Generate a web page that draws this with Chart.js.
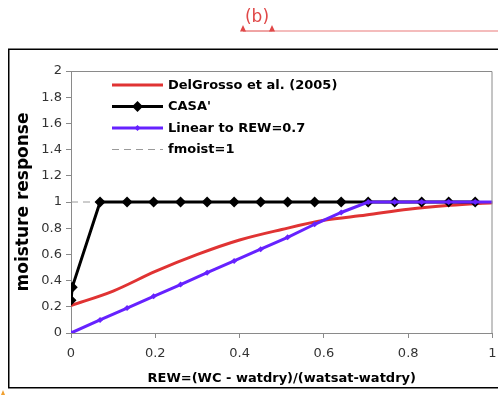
<!DOCTYPE html>
<html>
<head>
<meta charset="utf-8">
<script src="https://cdn.jsdelivr.net/npm/chart.js@4"></script>
<style>
  html, body { margin: 0; padding: 0; background: #fff; }
  #wrap { width: 498px; height: 396px; position: relative; }
</style>
</head>
<body>
<div id="wrap"><canvas id="chart"></canvas></div>
<script>
// REW values and responses
const rewX = [0, 0.1, 0.2, 0.3, 0.4, 0.5, 0.6, 0.7, 0.8, 0.9, 1.0];
const delGrossoY = [0.21, 0.32, 0.47, 0.60, 0.71, 0.79, 0.86, 0.90, 0.945, 0.975, 0.995];

const casaX = [0, 0.003, 0.069, 0.133, 0.196, 0.26, 0.323, 0.387, 0.45, 0.514, 0.578, 0.641, 0.705, 0.768, 0.832, 0.896, 0.959];
const casaY = [0.25, 0.35, 1, 1, 1, 1, 1, 1, 1, 1, 1, 1, 1, 1, 1, 1, 1];

const linearX = [0, 0.069, 0.133, 0.196, 0.26, 0.323, 0.387, 0.45, 0.514, 0.578, 0.641, 0.705, 0.768, 0.832, 0.896, 0.959, 1.0];
const linearY = [0, 0.1, 0.19, 0.28, 0.37, 0.46, 0.55, 0.64, 0.73, 0.83, 0.92, 1, 1, 1, 1, 1, 1];

const fmoistX = [0, 1];
const fmoistY = [1, 1];

const seriesNames = ["DelGrosso et al. (2005)", "CASA'", "Linear to REW=0.7", "fmoist=1"];

const xTicks = [0, 0.2, 0.4, 0.6, 0.8, 1];
const yTicks = [0, 0.2, 0.4, 0.6, 0.8, 1, 1.2, 1.4, 1.6, 1.8, 2];

const RED = "#e03333";
const PURPLE = "#6622ff";
const FONT = "'DejaVu Sans', Verdana, sans-serif";

function pts(xs, ys) {
    return xs.map((x, i) => ({ x: x, y: ys[i] }));
}

// frame, "(b)" header, border round the plot and the inside legend
const decor = {
    id: "decor",
    beforeDraw(chart) {
        const ctx = chart.ctx;
        ctx.save();
        ctx.fillStyle = "#fff";
        ctx.fillRect(0, 0, chart.width, chart.height);
        ctx.strokeStyle = "#000";
        ctx.lineWidth = 1.5;
        ctx.strokeRect(8.75, 49.25, 500, 338.5);

        ctx.fillStyle = "#e04848";
        ctx.font = "17px " + FONT;
        ctx.textAlign = "center";
        ctx.textBaseline = "middle";
        ctx.fillText("(b)", 257, 18);
        ctx.strokeStyle = "#f0a6a6";
        ctx.lineWidth = 1.5;
        ctx.beginPath();
        ctx.moveTo(272, 31);
        ctx.lineTo(498, 31);
        ctx.stroke();
        ctx.strokeStyle = "#e04848";
        ctx.lineWidth = 1;
        ctx.beginPath();
        ctx.moveTo(243, 31);
        ctx.lineTo(272, 31);
        ctx.stroke();
        [243, 272].forEach(function (tx) {
            ctx.beginPath();
            ctx.moveTo(tx - 3, 31.5);
            ctx.lineTo(tx + 3, 31.5);
            ctx.lineTo(tx, 25);
            ctx.closePath();
            ctx.fill();
        });
        ctx.fillStyle = "#f0a030";
        ctx.beginPath();
        ctx.moveTo(1, 395);
        ctx.lineTo(5, 395);
        ctx.lineTo(3, 390);
        ctx.closePath();
        ctx.fill();
        ctx.restore();
    },
    afterDatasetsDraw(chart) {
        const ctx = chart.ctx;
        const a = chart.chartArea;
        ctx.save();
        ctx.strokeStyle = "#8a8a8a";
        ctx.lineWidth = 1;
        ctx.beginPath();
        ctx.moveTo(a.left, a.top + 0.5);
        ctx.lineTo(a.right - 0.5, a.top + 0.5);
        ctx.lineTo(a.right - 0.5, a.bottom);
        ctx.stroke();

        // legend
        const rows = [85, 106.5, 128, 149.5];
        const x0 = 112, x1 = 163;
        ctx.font = "bold 13px " + FONT;
        ctx.textBaseline = "middle";
        ctx.textAlign = "left";
        chart.data.datasets.forEach(function (ds, i) {
            const y = rows[i];
            ctx.strokeStyle = ds.borderColor;
            ctx.lineWidth = ds.borderWidth;
            ctx.setLineDash(ds.borderDash || []);
            ctx.beginPath();
            ctx.moveTo(x0, y);
            ctx.lineTo(x1, y);
            ctx.stroke();
            ctx.setLineDash([]);
            if (ds.legendMarker) {
                const r = ds.legendMarker;
                const cx = (x0 + x1) / 2;
                ctx.fillStyle = ds.pointBackgroundColor;
                ctx.beginPath();
                ctx.moveTo(cx, y - r);
                ctx.lineTo(cx + r, y);
                ctx.lineTo(cx, y + r);
                ctx.lineTo(cx - r, y);
                ctx.closePath();
                ctx.fill();
            }
            ctx.fillStyle = "#000";
            ctx.fillText(ds.label, 168, y + 0.5);
        });
        ctx.restore();
    }
};

new Chart(document.getElementById("chart"), {
    type: "line",
    data: {
        datasets: [
            {
                label: seriesNames[0],
                data: pts(rewX, delGrossoY),
                borderColor: RED,
                backgroundColor: RED,
                borderWidth: 3,
                pointRadius: 0,
                cubicInterpolationMode: "monotone",
                order: 2,
            },
            {
                label: seriesNames[1],
                data: pts(casaX, casaY),
                borderColor: "#000",
                backgroundColor: "#000",
                pointBackgroundColor: "#000",
                borderWidth: 3,
                pointStyle: "rectRot",
                pointRadius: 5.5,
                pointBorderWidth: 0,
                legendMarker: 5.5,
                order: 1,
            },
            {
                label: seriesNames[2],
                data: pts(linearX, linearY),
                borderColor: PURPLE,
                backgroundColor: PURPLE,
                pointBackgroundColor: PURPLE,
                borderWidth: 3,
                pointStyle: "rectRot",
                pointRadius: linearX.map((x) => (x < 1 ? 3 : 0)),
                pointBorderWidth: 0,
                legendMarker: 3,
                order: 0,
            },
            {
                label: seriesNames[3],
                data: pts(fmoistX, fmoistY),
                borderColor: "#9a9a9a",
                backgroundColor: "#9a9a9a",
                borderWidth: 1,
                borderDash: [7, 5],
                pointRadius: 0,
                order: 3,
            },
        ],
    },
    options: {
        responsive: true,
        maintainAspectRatio: false,
        animation: false,
        layout: { padding: { top: 71, right: 5, left: 0, bottom: 0 } },
        plugins: {
            legend: { display: false },
            tooltip: { enabled: false },
        },
        scales: {
            x: {
                type: "linear",
                min: 0,
                max: 1,
                afterBuildTicks(scale) {
                    scale.ticks = xTicks.map((v) => ({ value: v }));
                },
                afterFit(scale) {
                    scale.height = 63;
                    scale.paddingLeft = 0;
                    scale.paddingRight = 0;
                },
                grid: {
                    display: true,
                    drawOnChartArea: false,
                    drawTicks: true,
                    tickLength: 5,
                    color: "#8a8a8a",
                },
                border: { display: true, color: "#8a8a8a", width: 1 },
                ticks: {
                    color: "#333",
                    padding: 8,
                    maxRotation: 0,
                    font: { family: FONT, size: 13 },
                    callback: (v) => String(Number(v.toFixed(1))),
                },
                title: {
                    display: true,
                    text: "REW=(WC - watdry)/(watsat-watdry)",
                    color: "#000",
                    font: { family: FONT, size: 13, weight: "bold" },
                    padding: { top: 0, bottom: 10 },
                },
            },
            y: {
                type: "linear",
                min: 0,
                max: 2,
                afterBuildTicks(scale) {
                    scale.ticks = yTicks.map((v) => ({ value: v }));
                },
                afterFit(scale) {
                    scale.width = 71;
                    scale.paddingTop = 0;
                    scale.paddingBottom = 0;
                },
                grid: {
                    display: true,
                    drawOnChartArea: false,
                    drawTicks: true,
                    tickLength: 5,
                    color: "#8a8a8a",
                },
                border: { display: true, color: "#8a8a8a", width: 1 },
                ticks: {
                    color: "#333",
                    padding: 4,
                    font: { family: FONT, size: 13 },
                    callback: (v) => String(Number(v.toFixed(1))),
                },
                title: {
                    display: true,
                    text: "moisture response",
                    color: "#000",
                    font: { family: FONT, size: 17, weight: "bold" },
                    padding: { top: 13, bottom: 0 },
                },
            },
        },
    },
    plugins: [decor],
});
</script>
</body>
</html>
